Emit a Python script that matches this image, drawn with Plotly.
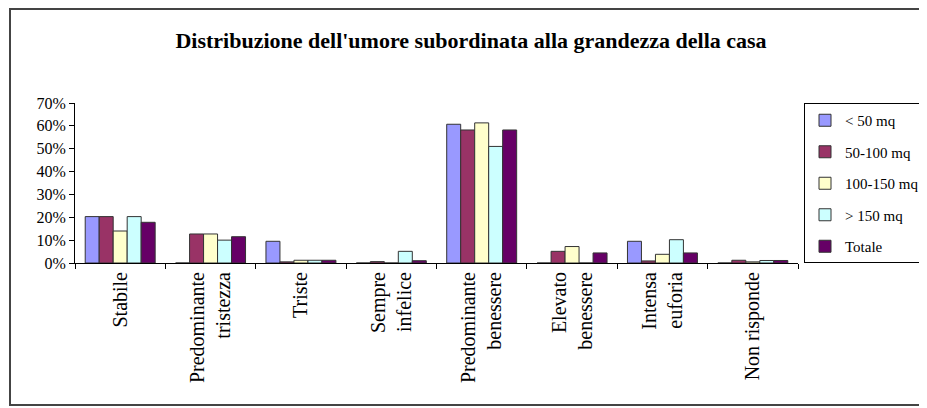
import plotly.graph_objects as go

categories = ["Stabile", "Predominante<br>tristezza", "Triste", "Sempre<br>infelice",
              "Predominante<br>benessere", "Elevato<br>benessere", "Intensa<br>euforia", "Non risponde"]

s_lt50 = [0.203, 0.0, 0.095, 0.0, 0.607, 0.0, 0.095, 0.0]
s_50_100 = [0.203, 0.127, 0.005, 0.006, 0.582, 0.051, 0.009, 0.012]
s_100_150 = [0.14, 0.127, 0.012, 0.0, 0.613, 0.072, 0.038, 0.005]
s_gt150 = [0.203, 0.10, 0.012, 0.051, 0.51, 0.0, 0.102, 0.011]
s_tot = [0.178, 0.115, 0.012, 0.01, 0.582, 0.044, 0.044, 0.011]

series_names = ["< 50 mq", "50-100 mq", "100-150 mq", "> 150 mq", "Totale"]
series_vals = [s_lt50, s_50_100, s_100_150, s_gt150, s_tot]
colors = ["#9999FF", "#993366", "#FFFFCC", "#CCFFFF", "#660066"]

FONT = "Liberation Serif, Times New Roman, serif"

fig = go.Figure()
for name, vals, col in zip(series_names, series_vals, colors):
    fig.add_trace(go.Bar(
        x=categories, y=vals, name=name, legendgroup=name,
        marker=dict(color=col, line=dict(color="#333333", width=1)),
    ))

# page body has an 8px margin; figure coordinates are offset accordingly
OFF = 8
W, H = 927 - OFF, 408 - OFF
L, T = 75 - OFF, 103 - OFF
R = W - (798 - OFF)
B = H - (263 - OFF)
pw, ph = W - L - R, H - T - B

fig.update_layout(
    width=W, height=H,
    margin=dict(l=L, r=R, t=T, b=B, autoexpand=False),
    paper_bgcolor="white", plot_bgcolor="white",
    barmode="group", bargap=0.226, bargroupgap=0,
    font=dict(family=FONT, size=15, color="black"),
    title=dict(text="<b>Distribuzione dell'umore subordinata alla grandezza della casa</b>",
               x=(471 - OFF) / W, xanchor="center", xref="container",
               y=1 - (40 - OFF) / H, yanchor="middle", yref="container",
               font=dict(family=FONT, size=22, color="black")),
    showlegend=True,
    legend=dict(x=(804 - 75) / pw, xanchor="left", y=1.0, yanchor="top",
                bordercolor="black", borderwidth=1, bgcolor="white",
                tracegroupgap=9, font=dict(family=FONT, size=15, color="black"),
                itemwidth=30, traceorder="grouped"),
    xaxis=dict(showline=True, linecolor="black", linewidth=1, ticks="outside",
               tickson="boundaries", ticklen=5, tickcolor="black", tickangle=-90,
               showgrid=False, tickfont=dict(family=FONT, size=20, color="black")),
    yaxis=dict(range=[0, 0.7], dtick=0.1, tickformat=".0%", showline=True,
               linecolor="black", linewidth=1, ticks="outside", ticklen=5,
               tickcolor="black", showgrid=False, zeroline=False,
               tickfont=dict(family=FONT, size=16, color="black")),
    shapes=[dict(type="rect", xref="paper", yref="paper",
                 x0=(10 - 75) / pw, x1=(945 - 75) / pw,
                 y0=(263 - 405) / ph, y1=(263 - 9) / ph,
                 line=dict(color="#444444", width=2), fillcolor="rgba(0,0,0,0)",
                 layer="below")],
)

fig.write_html("out.html")
